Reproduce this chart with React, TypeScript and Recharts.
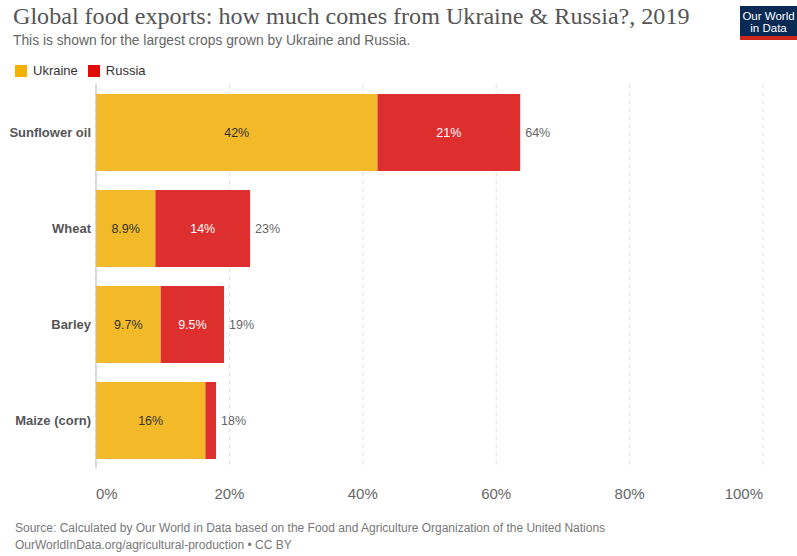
import React from "react";
import {
  BarChart,
  Bar,
  XAxis,
  YAxis,
  CartesianGrid,
  LabelList,
} from "recharts";

const crops = ["Sunflower oil", "Wheat", "Barley", "Maize (corn)"];
const ukraine = [42.2, 8.9, 9.7, 16.4];
const russia = [21.4, 14.2, 9.5, 1.6];
const xTicks = [0, 20, 40, 60, 80, 100];

const UKRAINE_COLOR = "#f2b928";
const RUSSIA_COLOR = "#de2f2f";
const SANS = "'Liberation Sans', Arial, sans-serif";
const SERIF = "'Liberation Serif', Georgia, serif";

const data = crops.map((name, i) => ({
  name,
  ukraine: ukraine[i],
  russia: russia[i],
  total: ukraine[i] + russia[i],
}));

const fmt = (v: number) => (v >= 10 ? `${Math.round(v)}%` : `${v.toFixed(1)}%`);

const XTick = (props: any) => {
  const { x, y, payload } = props;
  const v = payload.value;
  const anchor = v === 0 ? "start" : v === 100 ? "end" : "middle";
  return (
    <text x={x} y={y} dy={30} textAnchor={anchor} fill="#666" fontSize={15} fontFamily={SANS}>
      {v}%
    </text>
  );
};

const inside = (color: string) => (props: any) => {
  const { x, y, width, height, value } = props;
  if (width < 22) return null;
  return (
    <text
      x={x + width / 2}
      y={y + height / 2}
      dy={4.5}
      textAnchor="middle"
      fill={color}
      fontSize={12.5}
      fontFamily={SANS}
    >
      {fmt(value)}
    </text>
  );
};

const totalLabel = (props: any) => {
  const { x, y, width, height, value } = props;
  return (
    <text x={x + width + 5} y={y + height / 2} dy={4.5} fill="#666" fontSize={12.5} fontFamily={SANS}>
      {fmt(value)}
    </text>
  );
};

export default function App() {
  return (
    <div
      style={{
        position: "absolute",
        left: 0,
        top: 0,
        width: 797,
        height: 556,
        background: "#fff",
        fontFamily: SANS,
        overflow: "hidden",
      }}
    >
      <div
        style={{
          position: "absolute",
          left: 13,
          top: 3,
          fontFamily: SERIF,
          fontSize: 24.1,
          color: "#555",
          whiteSpace: "nowrap",
        }}
      >
        Global food exports: how much comes from Ukraine &amp; Russia?, 2019
      </div>
      <div
        style={{ position: "absolute", left: 13, top: 33, fontSize: 13.8, color: "#666", whiteSpace: "nowrap" }}
      >
        This is shown for the largest crops grown by Ukraine and Russia.
      </div>

      <div style={{ position: "absolute", left: 15, top: 63, display: "flex", alignItems: "center", fontSize: 13, color: "#333" }}>
        <span style={{ width: 12, height: 12, background: "#f2b100", display: "inline-block", marginRight: 6 }} />
        <span style={{ marginRight: 10 }}>Ukraine</span>
        <span style={{ width: 12, height: 12, background: "#e00a0a", display: "inline-block", marginRight: 6 }} />
        <span>Russia</span>
      </div>

      <div
        style={{
          position: "absolute",
          left: 740,
          top: 6,
          width: 57,
          height: 34,
          background: "#0a2a56",
          borderBottom: "4px solid #ce261e",
          boxSizing: "border-box",
          color: "#fff",
          fontSize: 11.5,
          lineHeight: "12px",
          textAlign: "center",
          paddingTop: 4,
          whiteSpace: "nowrap",
        }}
      >
        Our World
        <br />
        in Data
      </div>

      <div style={{ position: "absolute", left: 0, top: 0 }}>
        <BarChart
          width={797}
          height={556}
          data={data}
          layout="vertical"
          margin={{ top: 84.5, right: 34, bottom: 57.5, left: 0 }}
          barCategoryGap={9.5}
        >
          <CartesianGrid horizontal={false} stroke="#ddd" strokeDasharray="4 4" />
          <XAxis
            type="number"
            domain={[0, 100]}
            ticks={xTicks}
            axisLine={false}
            tickLine={false}
            tickSize={0}
            tickMargin={0}
            tick={<XTick />}
            height={30}
          />
          <YAxis
            type="category"
            dataKey="name"
            width={96}
            axisLine={{ stroke: "#bbb" }}
            tickLine={false}
            tickSize={0}
            tickMargin={5}
            tick={{ fill: "#555", fontSize: 13, fontWeight: "bold", fontFamily: SANS }}
          />
          <Bar dataKey="ukraine" stackId="a" fill={UKRAINE_COLOR} isAnimationActive={false}>
            <LabelList dataKey="ukraine" content={inside("#333")} />
          </Bar>
          <Bar dataKey="russia" stackId="a" fill={RUSSIA_COLOR} isAnimationActive={false}>
            <LabelList dataKey="russia" content={inside("#fff")} />
            <LabelList dataKey="total" content={totalLabel} />
          </Bar>
        </BarChart>
      </div>

      <div style={{ position: "absolute", left: 15, top: 520, fontSize: 12, color: "#777", lineHeight: "17px", whiteSpace: "nowrap" }}>
        Source: Calculated by Our World in Data based on the Food and Agriculture Organization of the United Nations
        <br />
        OurWorldInData.org/agricultural-production • CC BY
      </div>
    </div>
  );
}
